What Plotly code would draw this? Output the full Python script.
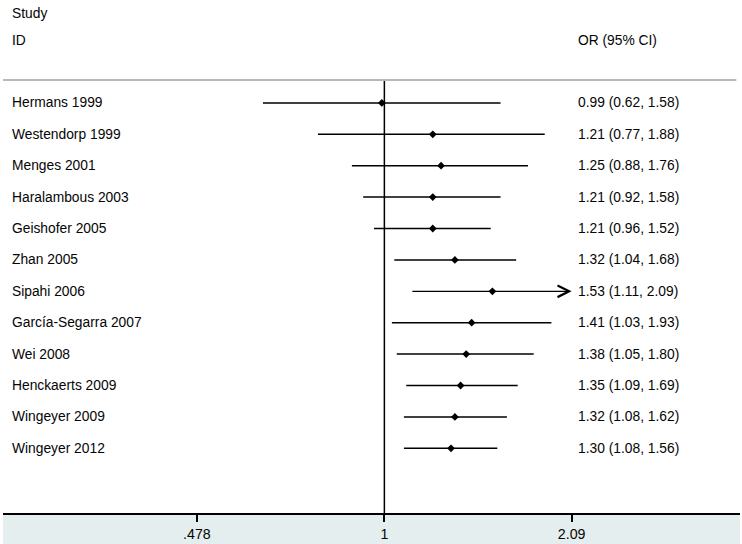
import math
import plotly.graph_objects as go

studies = [
    "Hermans 1999", "Westendorp 1999", "Menges 2001", "Haralambous 2003",
    "Geishofer 2005", "Zhan 2005", "Sipahi 2006", "García-Segarra 2007",
    "Wei 2008", "Henckaerts 2009", "Wingeyer 2009", "Wingeyer 2012",
]
odds = [0.99, 1.21, 1.25, 1.21, 1.21, 1.32, 1.53, 1.41, 1.38, 1.35, 1.32, 1.30]
lower = [0.62, 0.77, 0.88, 0.92, 0.96, 1.04, 1.11, 1.03, 1.05, 1.09, 1.08, 1.08]
upper = [1.58, 1.88, 1.76, 1.58, 1.52, 1.68, 2.09, 1.93, 1.80, 1.69, 1.62, 1.56]
arrow_right = [False, False, False, False, False, False, True, False, False, False, False, False]
tick_vals = [0.478, 1, 2.09]
tick_text = [".478", "1", "2.09"]

TEXT = "#050505"
BAND = "#E4EEEE"
FONT = "Liberation Sans, Arial, sans-serif"
SIZE = 13.8

rows = list(range(1, len(studies) + 1))

fig = go.Figure()

# confidence interval lines
for i, r in enumerate(rows):
    if arrow_right[i]:
        continue
    fig.add_trace(go.Scatter(
        x=[lower[i], upper[i]], y=[r, r], mode="lines",
        line=dict(color="black", width=1.5), hoverinfo="skip", showlegend=False,
    ))

# arrow for intervals truncated at the axis limit
for i, r in enumerate(rows):
    if arrow_right[i]:
        fig.add_annotation(
            x=math.log10(upper[i]), y=r, ax=math.log10(lower[i]), ay=r,
            xref="x", yref="y", axref="x", ayref="y", text="",
            showarrow=True, arrowhead=5, arrowsize=1.9, arrowwidth=1.2,
            arrowcolor="black", standoff=0,
        )

fig.add_trace(go.Scatter(
    x=odds, y=rows, mode="markers",
    marker=dict(symbol="diamond", size=6, color="black"),
    hoverinfo="skip", showlegend=False,
))

# null line
fig.add_shape(type="line", xref="x", yref="paper", x0=1, x1=1, y0=0, y1=1,
              line=dict(color="black", width=1.5))

# header separator
fig.add_shape(type="line", xref="paper", yref="paper", x0=0, x1=0.995, y0=1, y1=1,
              line=dict(color="#B8B8B8", width=2))

# bottom band
fig.add_shape(type="rect", xref="paper", yref="paper", x0=0, x1=1, y0=-0.075, y1=0,
              fillcolor=BAND, line=dict(width=0), layer="below")

for i, r in enumerate(rows):
    fig.add_annotation(x=0.009, xref="paper", y=r, yref="y", text=studies[i],
                       showarrow=False, xanchor="left", yanchor="middle",
                       font=dict(size=SIZE, color=TEXT))
    fig.add_annotation(x=0.777, xref="paper", y=r, yref="y",
                       text=f"{odds[i]:.2f} ({lower[i]:.2f}, {upper[i]:.2f})",
                       showarrow=False, xanchor="left", yanchor="middle",
                       font=dict(size=SIZE, color=TEXT))

fig.add_annotation(x=0.009, xref="paper", y=1.154, yref="paper", text="Study",
                   showarrow=False, xanchor="left", yanchor="middle",
                   font=dict(size=SIZE, color=TEXT))
fig.add_annotation(x=0.009, xref="paper", y=1.092, yref="paper", text="ID",
                   showarrow=False, xanchor="left", yanchor="middle",
                   font=dict(size=SIZE, color=TEXT))
fig.add_annotation(x=0.777, xref="paper", y=1.092, yref="paper", text="OR (95% CI)",
                   showarrow=False, xanchor="left", yanchor="middle",
                   font=dict(size=SIZE, color=TEXT))

fig.update_layout(
    width=742, height=544,
    margin=dict(l=3, r=2, t=80, b=29),
    paper_bgcolor="white", plot_bgcolor="white",
    font=dict(family=FONT, color=TEXT, size=SIZE),
    showlegend=False,
)
fig.update_xaxes(
    type="log", range=[-0.652, 0.608],
    tickvals=tick_vals, ticktext=tick_text,
    ticks="outside", ticklen=7, tickwidth=1.5, tickcolor="black",
    showline=True, linecolor="black", linewidth=1.5,
    showgrid=False, zeroline=False, tickfont=dict(size=14.2, color=TEXT),
)
fig.update_yaxes(
    range=[14.06, 0.27], showticklabels=False, showgrid=False,
    zeroline=False, showline=False, ticks="",
)

fig.write_html("out.html", config={"displayModeBar": False},
               post_script="document.body.style.margin='0';")
